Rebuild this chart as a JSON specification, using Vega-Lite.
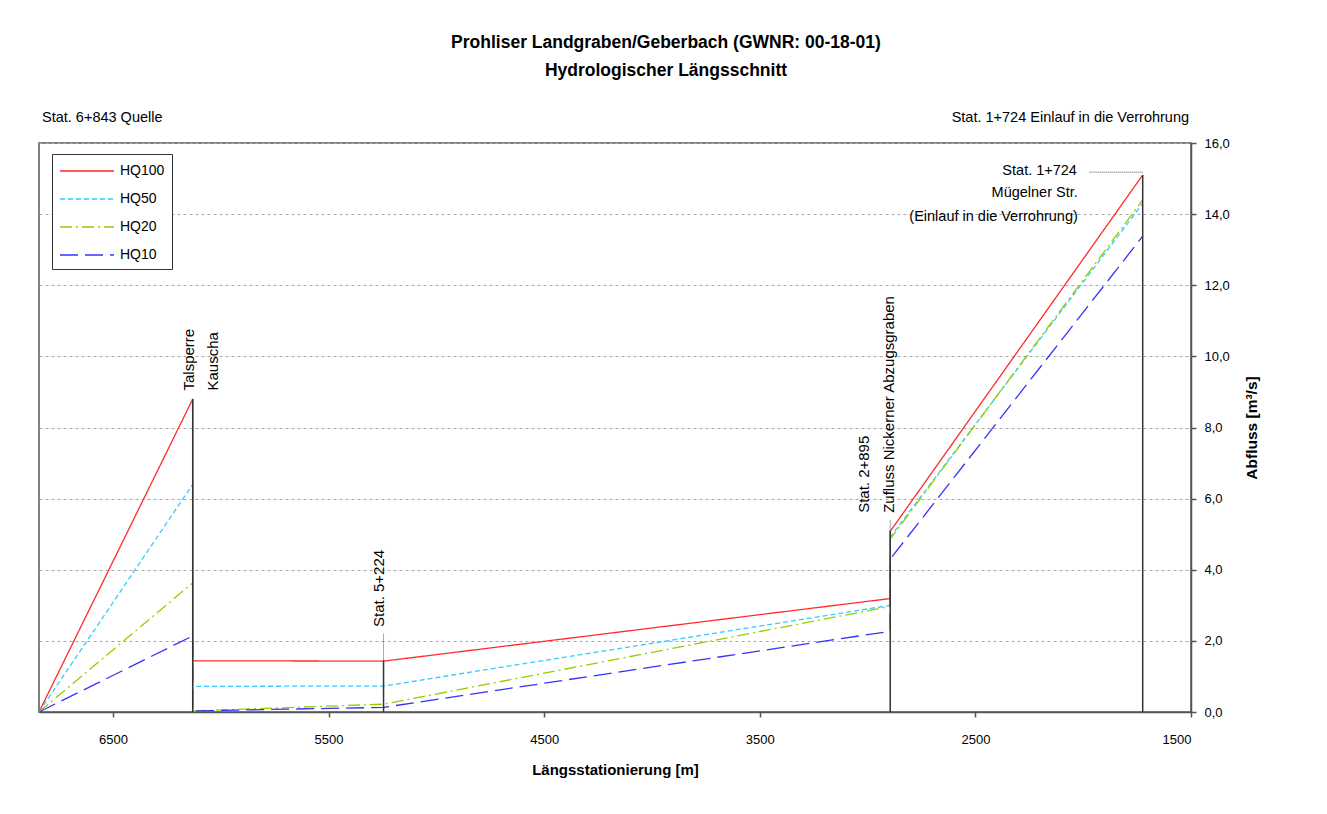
{
  "$schema": "https://vega.github.io/schema/vega-lite/v6.json",
  "width": 1152,
  "height": 569,
  "autosize": {"type": "none"},
  "padding": {"left": 39, "top": 143, "right": 136, "bottom": 102},
  "background": "white",
  "title": {
    "text": "Prohliser Landgraben/Geberbach (GWNR: 00-18-01)",
    "subtitle": "Hydrologischer Längsschnitt",
    "anchor": "middle",
    "frame": "group",
    "dx": 51,
    "offset": 31,
    "font": "Liberation Sans",
    "fontSize": 17.5,
    "fontWeight": "bold",
    "color": "black",
    "subtitleFont": "Liberation Sans",
    "subtitleFontSize": 17.5,
    "subtitleFontWeight": "bold",
    "subtitleColor": "black",
    "subtitlePadding": 10
  },
  "config": {
    "font": "Liberation Sans",
    "view": {"stroke": "#555555", "strokeWidth": 1.5},
    "axis": {
      "labelFont": "Liberation Sans",
      "titleFont": "Liberation Sans",
      "labelColor": "black",
      "titleColor": "black",
      "domainColor": "#555555",
      "domainWidth": 1.5,
      "tickColor": "#555555",
      "tickWidth": 1.5
    }
  },
  "datasets": {
    "lines": [
      {"series": "HQ100", "pt": 1, "station": 6843, "q": 0},
      {"series": "HQ100", "pt": 2, "station": 6130, "q": 8.8},
      {"series": "HQ100", "pt": 3, "station": 6130, "q": 1.44},
      {"series": "HQ100", "pt": 4, "station": 5245, "q": 1.43},
      {"series": "HQ100", "pt": 5, "station": 2895, "q": 3.19},
      {"series": "HQ100", "pt": 6, "station": 2895, "q": 5.08},
      {"series": "HQ100", "pt": 7, "station": 1724, "q": 15.1},
      {"series": "HQ50", "pt": 1, "station": 6843, "q": 0},
      {"series": "HQ50", "pt": 2, "station": 6130, "q": 6.4},
      {"series": "HQ50", "pt": 3, "station": 6130, "q": 0.72},
      {"series": "HQ50", "pt": 4, "station": 5245, "q": 0.73},
      {"series": "HQ50", "pt": 5, "station": 2895, "q": 3.0},
      {"series": "HQ50", "pt": 6, "station": 2895, "q": 4.92},
      {"series": "HQ50", "pt": 7, "station": 1724, "q": 14.3},
      {"series": "HQ20", "pt": 1, "station": 6843, "q": 0},
      {"series": "HQ20", "pt": 2, "station": 6130, "q": 3.63},
      {"series": "HQ20", "pt": 3, "station": 6130, "q": 0.03},
      {"series": "HQ20", "pt": 4, "station": 5245, "q": 0.22},
      {"series": "HQ20", "pt": 5, "station": 2895, "q": 2.97},
      {"series": "HQ20", "pt": 6, "station": 2895, "q": 4.86},
      {"series": "HQ20", "pt": 7, "station": 1724, "q": 14.4},
      {"series": "HQ10", "pt": 1, "station": 6843, "q": 0},
      {"series": "HQ10", "pt": 2, "station": 6130, "q": 2.14},
      {"series": "HQ10", "pt": 3, "station": 6130, "q": 0.03},
      {"series": "HQ10", "pt": 4, "station": 5245, "q": 0.13},
      {"series": "HQ10", "pt": 5, "station": 2895, "q": 2.27},
      {"series": "HQ10", "pt": 6, "station": 2895, "q": 4.3},
      {"series": "HQ10", "pt": 7, "station": 1724, "q": 13.38}
    ],
    "rules": [
      {"kind": "solid", "station": 6130, "q0": 0, "q1": 8.8},
      {"kind": "solid", "station": 5245, "q0": 0, "q1": 1.45},
      {"kind": "solid", "station": 2895, "q0": 0, "q1": 5.1},
      {"kind": "solid", "station": 1724, "q0": 0, "q1": 15.1},
      {"kind": "dotted", "station": 5245, "q0": 1.45, "q1": 2.2},
      {"kind": "dotted", "station": 2895, "q0": 5.1, "q1": 5.4}
    ],
    "leader": [
      {"x0": 1970, "x1": 1724, "q": 15.18}
    ],
    "labels": [
      {"group": "left", "text": "Stat. 6+843 Quelle", "station": 6829, "q": 16.69},
      {"group": "right", "text": "Stat. 1+724 Einlauf in die Verrohrung", "station": 1509, "q": 16.69},
      {"group": "right", "text": "Stat. 1+724", "station": 2029, "q": 15.22},
      {"group": "right", "text": "Mügelner Str.", "station": 2025, "q": 14.58},
      {"group": "right", "text": "(Einlauf in die Verrohrung)", "station": 2025, "q": 13.93},
      {"group": "vertical", "text": "Talsperre", "station": 6147, "q": 9.04},
      {"group": "vertical", "text": "Kauscha", "station": 6035, "q": 9.04},
      {"group": "vertical", "text": "Stat. 5+224", "station": 5265, "q": 2.39},
      {"group": "vertical", "text": "Stat. 2+895", "station": 3018, "q": 5.6},
      {"group": "vertical", "text": "Zufluss Nickerner Abzugsgraben", "station": 2902, "q": 5.6}
    ]
  },
  "encoding": {
    "x": {
      "field": "station",
      "type": "quantitative",
      "scale": {"domain": [1500, 6843], "reverse": true, "nice": false, "zero": false},
      "axis": {
        "values": [6500, 5500, 4500, 3500, 2500, 1500],
        "format": "d",
        "title": "Längsstationierung [m]",
        "titleFontSize": 15,
        "titleFontWeight": "bold",
        "titlePadding": 16,
        "labelFontSize": 13,
        "labelPadding": 16,
        "tickSize": 5,
        "grid": false
      }
    },
    "y": {
      "field": "q",
      "type": "quantitative",
      "scale": {"domain": [0, 16], "nice": false},
      "axis": {
        "orient": "right",
        "values": [0, 2, 4, 6, 8, 10, 12, 14, 16],
        "labelExpr": "replace(format(datum.value, '.1f'), '.', ',')",
        "title": "Abfluss [m³/s]",
        "titleAngle": 270,
        "titleFontSize": 15.5,
        "titleFontWeight": "bold",
        "titlePadding": 30,
        "labelFontSize": 13,
        "labelPadding": 8,
        "tickSize": 5,
        "grid": true,
        "gridColor": "#a8a8a8",
        "gridDash": [3, 3],
        "gridWidth": 1
      }
    }
  },
  "layer": [
    {
      "data": {"name": "lines"},
      "mark": {"type": "line", "strokeWidth": 1.3, "clip": false},
      "encoding": {
        "order": {"field": "pt", "type": "quantitative"},
        "color": {
          "field": "series",
          "type": "nominal",
          "scale": {"domain": ["HQ100", "HQ50", "HQ20", "HQ10"], "range": ["#ff2a2a", "#33ccff", "#99cc00", "#3333ff"]},
          "legend": {
            "title": null,
            "orient": "none",
            "legendX": 13,
            "legendY": 11,
            "direction": "vertical",
            "symbolType": "M-1,0H5",
            "symbolSize": 324,
            "symbolStrokeWidth": 1.5,
            "labelOffset": 41,
            "labelFontSize": 14,
            "labelFont": "Liberation Sans",
            "labelColor": "black",
            "rowPadding": 11,
            "padding": 7,
            "strokeColor": "#333333",
            "fillColor": "white"
          }
        },
        "strokeDash": {
          "field": "series",
          "type": "nominal",
          "scale": {"domain": ["HQ100", "HQ50", "HQ20", "HQ10"], "range": [[1, 0], [5, 3], [12, 4, 2, 4], [18, 7]]},
          "legend": {
            "title": null,
            "orient": "none",
            "legendX": 13,
            "legendY": 11,
            "direction": "vertical",
            "symbolType": "M-1,0H5",
            "symbolSize": 324,
            "symbolStrokeWidth": 1.5,
            "labelOffset": 41,
            "labelFontSize": 14,
            "labelFont": "Liberation Sans",
            "labelColor": "black",
            "rowPadding": 11,
            "padding": 7,
            "strokeColor": "#333333",
            "fillColor": "white"
          }
        }
      }
    },
    {
      "data": {"name": "rules"},
      "transform": [{"filter": "datum.kind === 'solid'"}],
      "mark": {"type": "rule", "color": "#333333", "strokeWidth": 1.5},
      "encoding": {
        "y": {"field": "q0", "type": "quantitative"},
        "y2": {"field": "q1"}
      }
    },
    {
      "data": {"name": "rules"},
      "transform": [{"filter": "datum.kind === 'dotted'"}],
      "mark": {"type": "rule", "color": "#555555", "strokeWidth": 1, "strokeDash": [1, 1]},
      "encoding": {
        "y": {"field": "q0", "type": "quantitative"},
        "y2": {"field": "q1"}
      }
    },
    {
      "data": {"name": "leader"},
      "mark": {"type": "rule", "color": "#555555", "strokeWidth": 1, "strokeDash": [1, 1]},
      "encoding": {
        "x": {"field": "x0", "type": "quantitative"},
        "x2": {"field": "x1"},
        "y": {"field": "q", "type": "quantitative"}
      }
    },
    {
      "data": {"name": "labels"},
      "transform": [{"filter": "datum.group === 'left'"}],
      "mark": {"type": "text", "align": "left", "baseline": "middle", "fontSize": 14.5, "font": "Liberation Sans", "color": "black"},
      "encoding": {"text": {"field": "text"}}
    },
    {
      "data": {"name": "labels"},
      "transform": [{"filter": "datum.group === 'right'"}],
      "mark": {"type": "text", "align": "right", "baseline": "middle", "fontSize": 14.5, "font": "Liberation Sans", "color": "black"},
      "encoding": {"text": {"field": "text"}}
    },
    {
      "data": {"name": "labels"},
      "transform": [{"filter": "datum.group === 'vertical'"}],
      "mark": {"type": "text", "align": "left", "baseline": "middle", "angle": 270, "fontSize": 15, "font": "Liberation Sans", "color": "black"},
      "encoding": {"text": {"field": "text"}}
    }
  ]
}
